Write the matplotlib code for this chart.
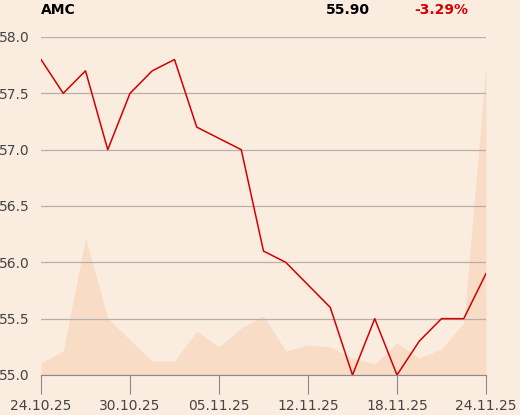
import numpy as np
import matplotlib.pyplot as plt

ticker = "AMC"
last_price = "55.90"
change = "-3.29%"

price = [57.8, 57.5, 57.7, 57.0, 57.5, 57.7, 57.8, 57.2, 57.1, 57.0, 56.1,
         56.0, 55.8, 55.6, 55.0, 55.5, 55.0, 55.3, 55.5, 55.5, 55.9]
volume = [12, 24, 137, 57, 35, 14, 14, 44, 28, 47, 59,
          24, 30, 28, 17, 11, 32, 17, 26, 52, 309]
tick_pos = [0, 4, 8, 12, 16, 20]
tick_labels = ["24.10.25", "30.10.25", "05.11.25", "12.11.25", "18.11.25", "24.11.25"]
yticks = [55.0, 55.5, 56.0, 56.5, 57.0, 57.5, 58.0]

bg = "#FBECE0"
x = np.arange(len(price))

fig = plt.figure(figsize=(5.2, 4.15), dpi=100, facecolor=bg)
ax = fig.add_axes([41/520, 40/415, 445/520, 338/415])
ax.set_facecolor(bg)

vax = ax.twinx()
vax.fill_between(x, 0, volume, color="#F8DCC6", lw=0)
vax.set_ylim(0, 338)
vax.axis("off")

ax.set_zorder(vax.get_zorder() + 1)
ax.patch.set_visible(False)
ax.plot(x, price, color="#D40000", lw=1.1)

ax.set_xlim(0, len(price) - 1)
ax.set_ylim(55.0, 58.0)
ax.set_yticks(yticks)
ax.set_yticklabels([f"{v:.1f}" for v in yticks])
ax.set_xticks(tick_pos)
ax.set_xticklabels(tick_labels)
ax.grid(axis="y", color="#B4B0AC", lw=0.9)
ax.set_axisbelow(True)
for s in ["top", "right", "left"]:
    ax.spines[s].set_visible(False)
ax.spines["bottom"].set_color("#8A8A8A")
ax.tick_params(axis="y", length=0, pad=8, labelsize=10, labelcolor="#444444")
ax.tick_params(axis="x", length=14, pad=3, color="#8A8A8A", labelsize=10, labelcolor="#444444")

fig.text(41/520, 1 - 10/415, ticker, fontsize=10, fontweight="bold", va="center", ha="left")
fig.text(370/520, 1 - 10/415, last_price, fontsize=10, fontweight="bold", va="center", ha="right")
fig.text(468/520, 1 - 10/415, change, fontsize=10, fontweight="bold", va="center", ha="right", color="#D40000")

fig.savefig("out.png", dpi=100, facecolor=bg)
